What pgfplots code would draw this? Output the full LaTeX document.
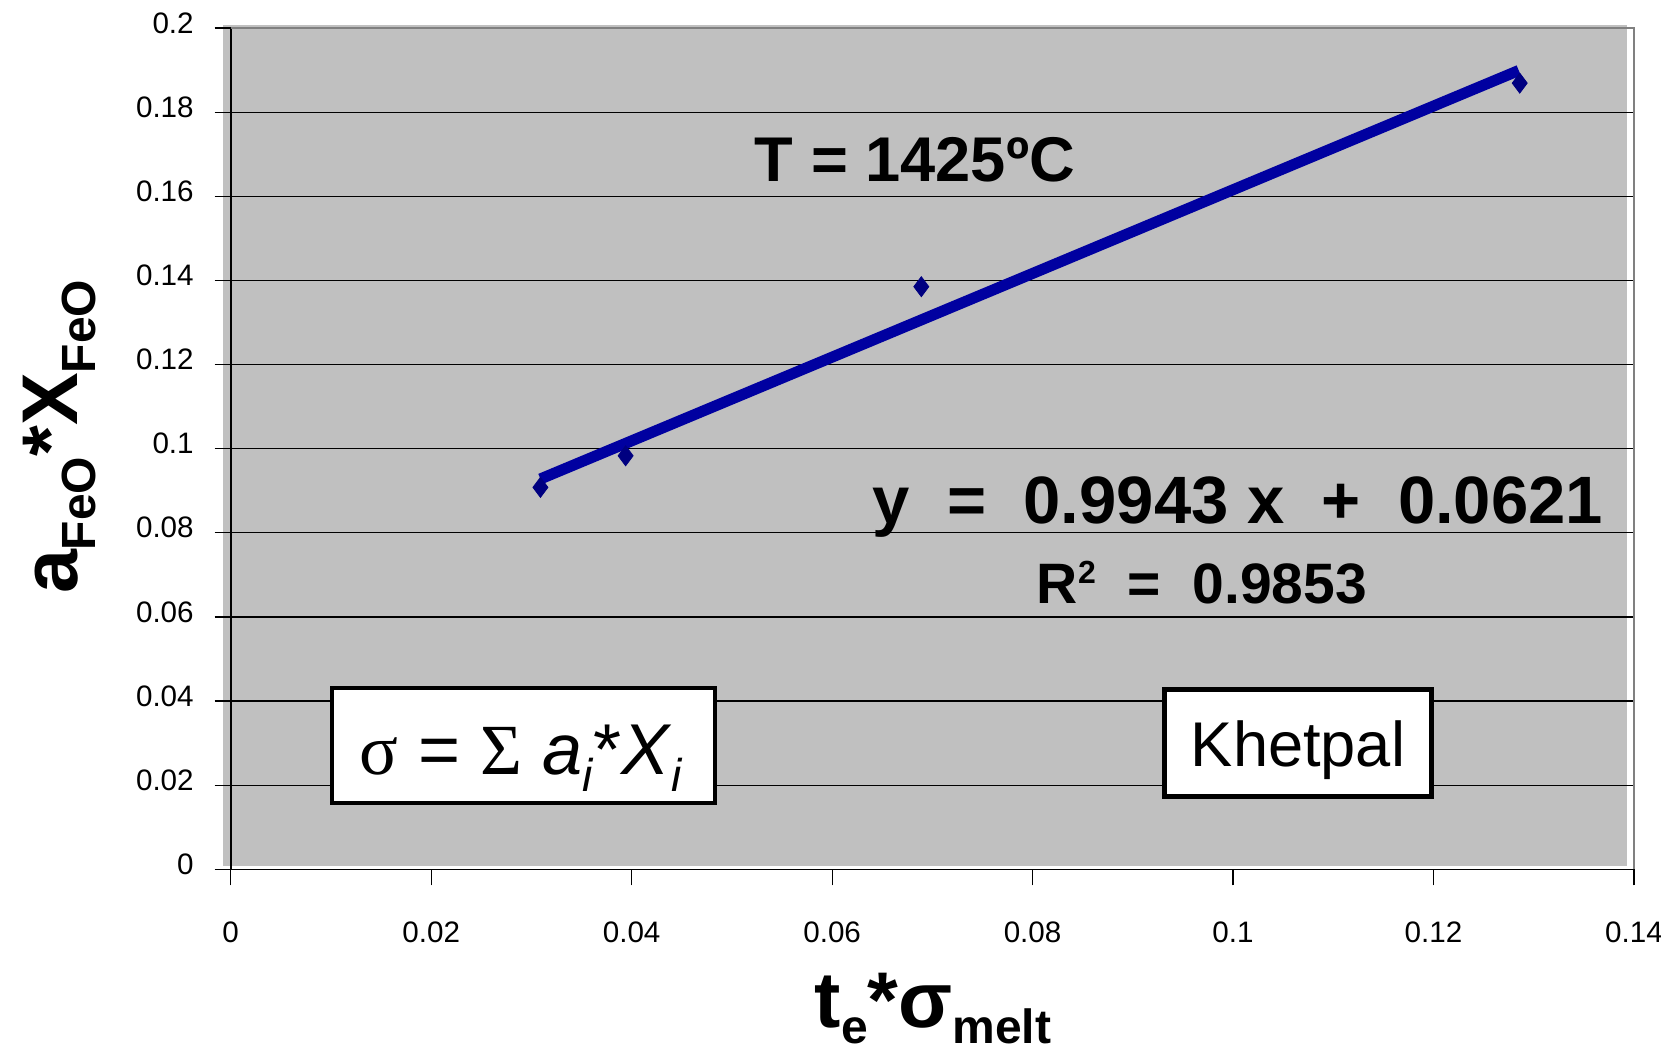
\documentclass[border=0pt]{standalone}
\usepackage{pgfplots}
\pgfplotsset{compat=1.18}
\usepackage{fontspec}
\setmainfont{Liberation Sans}
\newfontfamily\symfont{Liberation Serif}
\definecolor{plotgray}{RGB}{192,192,192}
\definecolor{linecol}{RGB}{0,0,160}
\definecolor{markcol}{RGB}{0,0,128}
\definecolor{bordergray}{RGB}{128,128,128}
\begin{document}
\begin{tikzpicture}
\begin{axis}[
  set layers,
  scale only axis,
  width=701.65bp, height=420.65bp,
  xmin=0, xmax=0.14, ymin=0, ymax=0.2,
  axis lines=left,
  axis line style={-, black, line width=0.8bp},
  xtick={0,0.02,0.04,0.06,0.08,0.1,0.12,0.14},
  xticklabels={0,0.02,0.04,0.06,0.08,0.1,0.12,0.14},
  ytick={0,0.02,0.04,0.06,0.08,0.1,0.12,0.14,0.16,0.18,0.2},
  yticklabels={0,0.02,0.04,0.06,0.08,0.1,0.12,0.14,0.16,0.18,0.2},
  tick align=outside,
  major tick length=8bp,
  tick style={black, line width=0.6bp},
  ymajorgrids,
  grid style={black, line width=0.6bp},
  tick label style={font=\fontsize{14.8bp}{17bp}\selectfont},
  yticklabel style={anchor=east, xshift=-7bp, yshift=2.5bp},
  xticklabel style={anchor=north, yshift=-14.5bp},
  clip=false,
]
\begin{pgfonlayer}{axis background}
\fill[plotgray] (axis cs:-0.00077,0.00078) rectangle (axis cs:0.13930,0.2007);
\end{pgfonlayer}

\addplot[only marks, mark=diamond*, mark size=5bp, color=markcol, mark options={fill=markcol, draw=markcol}]
  coordinates {(0.0309,0.0908) (0.0394,0.0983) (0.0689,0.1385) (0.1286,0.1869)};
\addplot[linecol, line width=5.5bp, line cap=butt, no marks]
  coordinates {(0.0309,0.0928) (0.1285,0.1899)};

\draw[bordergray, line width=1bp] (axis cs:0,0.2) -- (axis cs:0.14,0.2) -- (axis cs:0.14,0);

\node[anchor=base, font=\bfseries\fontsize{31.6bp}{36bp}\selectfont] at (axis cs:0.06826,0.16341) {T = 1425ºC};
\node[anchor=base, font=\bfseries\fontsize{33.5bp}{38bp}\selectfont] at (axis cs:0.10049,0.0821) {y\ \ =\ \ 0.9943 x\ \ +\ \ 0.0621};
\node[anchor=base, font=\bfseries\fontsize{28.5bp}{32bp}\selectfont] at (axis cs:0.09689,0.0631) {R\raisebox{10bp}{\fontsize{16bp}{16bp}\selectfont 2}\ \ =\ \ 0.9853};

\node[draw=black, fill=white, line width=1.7bp, minimum width=191.5bp, minimum height=57.5bp, inner sep=0pt] at (axis cs:0.02921,0.02943) {};
\node[anchor=base, font=\fontsize{36bp}{40bp}\selectfont] at (axis cs:0.02900,0.02242) {{\symfont σ} = {\symfont Σ} \textit{a}\raisebox{-8.5bp}{\fontsize{23bp}{23bp}\selectfont\textit{i}}*\textit{X}\raisebox{-8.5bp}{\fontsize{23bp}{23bp}\selectfont\textit{i}}};

\node[draw=black, fill=white, line width=2.5bp, minimum width=133.5bp, minimum height=53.5bp, inner sep=0pt] at (axis cs:0.10652,0.02991) {};
\node[anchor=base, font=\fontsize{31.6bp}{36bp}\selectfont] at (axis cs:0.10648,0.02433) {Khetpal};

\node[rotate=90, font=\bfseries\fontsize{39.5bp}{44bp}\selectfont] at (axis cs:-0.01705,0.10278) {a\raisebox{-9bp}{\fontsize{24bp}{24bp}\selectfont FeO}*X\raisebox{-9bp}{\fontsize{24bp}{24bp}\selectfont FeO}};
\node[font=\bfseries\fontsize{39.5bp}{44bp}\selectfont, inner sep=0pt] at (axis cs:0.07006,-0.03300) {t\raisebox{-8bp}{\fontsize{24bp}{24bp}\selectfont e}*σ\raisebox{-8bp}{\fontsize{24bp}{24bp}\selectfont melt}};
\end{axis}
\pgfresetboundingbox
\path (current axis.south west) ++(-115.35bp,-92.35bp) rectangle ++(830.5bp,527bp);
\end{tikzpicture}
\end{document}
